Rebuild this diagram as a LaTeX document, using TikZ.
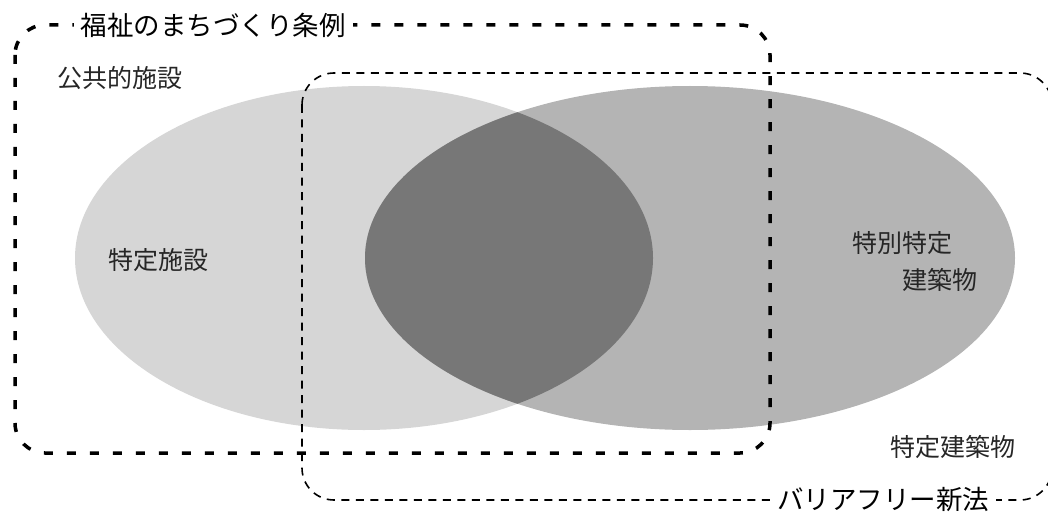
\documentclass[tikz,border=0pt]{standalone}
\usepackage{fontspec}
\setmainfont{Noto Sans CJK JP}
\definecolor{lightell}{HTML}{D6D6D6}
\definecolor{midell}{HTML}{B4B4B4}
\definecolor{lensc}{HTML}{777777}
\begin{document}
\begin{tikzpicture}[x=1pt,y=-1pt,
  lbl/.style={font=\fontsize{25}{25}\selectfont, inner sep=0pt, text=black!85},
  biglbl/.style={font=\fontsize{26.5}{26.5}\selectfont, inner xsep=7pt, inner ysep=2pt, fill=white},
  boldframe/.style={draw=black, line width=3.5pt, dash pattern=on 9pt off 14pt, rounded corners=30pt},
  thinframe/.style={draw=black, line width=1.6pt, dash pattern=on 8pt off 6.5pt, rounded corners=32pt}]
\useasboundingbox (0,0) rectangle (1048,513);
% ellipses
\fill[lightell] (364,258) ellipse [x radius=289pt, y radius=172pt];
\fill[midell] (690,258) ellipse [x radius=325pt, y radius=172pt];
\begin{scope}
  \clip (364,258) ellipse [x radius=289pt, y radius=172pt];
  \fill[lensc] (690,258) ellipse [x radius=325pt, y radius=172pt];
\end{scope}
% frames
\draw[thinframe] (302,73) rectangle (1052,500);
\draw[boldframe] (15,25) rectangle (770,453);
% labels
\node[biglbl] (jorei) at (213,25) {福祉のまちづくり条例};
\node[biglbl] (shinpo) at (883,499) {バリアフリー新法};
\node[lbl] (koukyou) at (120,78) {公共的施設};
\node[lbl] (tokuteishisetsu) at (158,260) {特定施設};
\node[lbl] (tokubetsu) at (902,243) {特別特定};
\node[lbl] (kenchiku) at (940,280) {建築物};
\node[lbl] (tokuteikenchiku) at (953,447) {特定建築物};
\end{tikzpicture}
\end{document}
